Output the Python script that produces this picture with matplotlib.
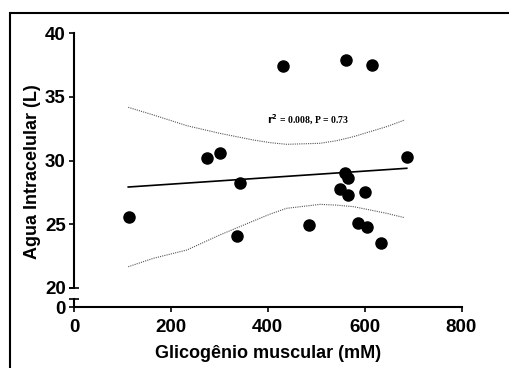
import matplotlib
matplotlib.use("Agg")
import matplotlib.pyplot as plt
from matplotlib.patches import Rectangle

plt.rcParams['font.family'] = ['Liberation Sans', 'DejaVu Sans']

# pontos (glicogênio, água intracelular)
glicogenio = [114, 275, 302, 343, 337, 432, 562, 616, 687, 559, 566, 550, 566, 601, 486, 586, 604, 633]
agua = [25.6, 30.2, 30.6, 28.2, 24.1, 37.4, 37.9, 37.5, 30.3, 29.0, 28.6, 27.8, 27.3, 27.5, 24.95, 25.1, 24.8, 23.5]

# reta de regressão e banda de confiança
fit_x = [112, 687]
fit_y = [27.92, 29.39]
ci_x = [112, 164, 233, 301, 370, 405, 439, 508, 542, 577, 645, 683]
ci_sup = [34.17, 33.57, 32.73, 32.13, 31.61, 31.40, 31.27, 31.35, 31.55, 31.87, 32.65, 33.18]
ci_inf = [21.67, 22.33, 22.98, 24.16, 25.25, 25.80, 26.25, 26.56, 26.50, 26.38, 25.86, 25.51]

xticks = [0, 200, 400, 600, 800]
yticks = [20, 25, 30, 35, 40]

W, H = 509, 368
fig = plt.figure(figsize=(W / 100, H / 100), dpi=100)

# moldura externa
fig.patches.append(Rectangle((10 / W, -0.1), 1.2, (H - 13) / H + 0.1, transform=fig.transFigure,
                             fill=False, edgecolor='black', linewidth=1.5))

x0, x1 = 74, 461.5
ax = fig.add_axes([x0 / W, (H - 288) / H, (x1 - x0) / W, (288 - 33) / H])
axb = fig.add_axes([x0 / W, (H - 307) / H, (x1 - x0) / W, (307 - 299) / H], sharex=ax)

ax.plot(ci_x, ci_sup, color='#555555', linestyle=(0, (1, 1)), linewidth=0.8)
ax.plot(ci_x, ci_inf, color='#555555', linestyle=(0, (1, 1)), linewidth=0.8)
ax.plot(fit_x, fit_y, color='black', linewidth=1.2)
ax.plot(glicogenio, agua, 'o', color='black', markersize=8)
ax.text(398, 33.2, r'$\mathbf{r^2}$ = 0.008, P = 0.73', family='Liberation Serif',
        fontweight='bold', fontsize=7, va='center')

ax.set_xlim(0, 800)
ax.set_ylim(20, 40)
ax.set_yticks(yticks)
ax.tick_params(axis='x', bottom=False, labelbottom=False)
for s in ['top', 'right', 'bottom']:
    ax.spines[s].set_visible(False)

axb.set_ylim(0, 1)
axb.set_yticks([0])
axb.set_xticks(xticks)
for s in ['top', 'right']:
    axb.spines[s].set_visible(False)

for a in (ax, axb):
    a.spines['left'].set_linewidth(1.5)
    a.spines['bottom'].set_linewidth(1.5)
    a.tick_params(length=3.5, width=1.2, labelsize=13.5)
    a.tick_params(axis='y', pad=2.5)
    a.tick_params(axis='x', pad=5)
    for lab in a.get_xticklabels() + a.get_yticklabels():
        lab.set_fontweight('bold')

# marcas de quebra do eixo y
ax.plot([0], [20], marker='_', color='black', markersize=7, markeredgewidth=1.2, clip_on=False)
axb.plot([0], [1], marker='_', color='black', markersize=7, markeredgewidth=1.2, clip_on=False)

fig.text((x0 + x1) / 2 / W, 1 - 354 / H, 'Glicogênio muscular (mM)', ha='center', va='center',
         fontsize=13, fontweight='bold')
fig.text(33 / W, 1 - 172 / H, 'Agua Intracelular (L)', ha='center', va='center', rotation=90,
         fontsize=13, fontweight='bold')

fig.savefig('out.png', dpi=100)
